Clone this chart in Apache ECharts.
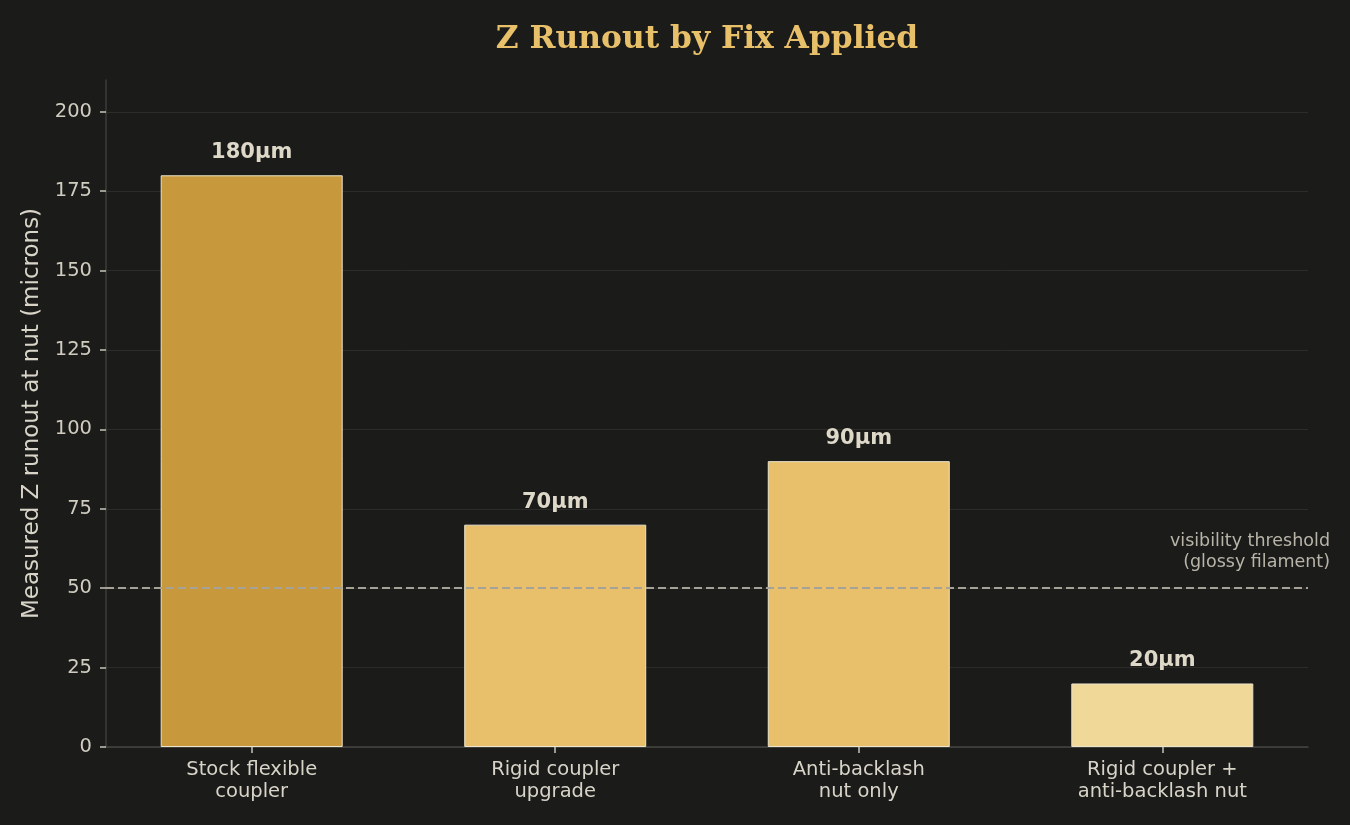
<!DOCTYPE html>
<html>
<head>
<meta charset="utf-8">
<script src="https://cdn.jsdelivr.net/npm/echarts@6/dist/echarts.min.js"></script>
<style>
html,body{margin:0;padding:0;background:#1b1b1a;}
#chart{width:1350px;height:825px;}
</style>
</head>
<body>
<div id="chart"></div>
<script>
var categories = ["Stock flexible\ncoupler", "Rigid coupler\nupgrade", "Anti-backlash\nnut only", "Rigid coupler +\nanti-backlash nut"];
var runoutValues = [180, 70, 90, 20];
var barColors = ["#c8993c", "#e8c06c", "#e8c06c", "#f0d898"];
var yTicks = [0, 25, 50, 75, 100, 125, 150, 175, 200];
var thresholdValue = 50;
var thresholdLabel = "visibility threshold\n(glossy filament)";
var xPositions = [0, 1, 2, 3];

var chart = echarts.init(document.getElementById('chart'));
var barData = runoutValues.map(function (v, i) {
  return { value: [xPositions[i], v], itemStyle: { color: barColors[i] } };
});

var option = {
  backgroundColor: '#1b1b1a',
  animation: false,
  title: {
    text: 'Z Runout by Fix Applied',
    left: 702,
    textAlign: 'center',
    top: 19,
    textStyle: { fontFamily: 'DejaVu Serif', fontWeight: 'bold', fontSize: 31.3, color: '#e8c06a' }
  },
  grid: { left: 106, right: 42, top: 80, bottom: 78 },
  xAxis: {
    type: 'value',
    min: -0.48,
    max: 3.48,
    splitLine: { show: false },
    axisLine: { show: true, onZero: false, lineStyle: { color: '#444442', width: 1.5 } },
    axisTick: { show: true, customValues: xPositions, length: 6, lineStyle: { color: '#c8c4b8', width: 1.5 } },
    axisLabel: {
      customValues: xPositions,
      formatter: function (v) { return categories[Math.round(v)] || ''; },
      color: '#d8d4c8', fontSize: 19.5, fontFamily: 'DejaVu Sans', lineHeight: 22, margin: 12
    }
  },
  yAxis: {
    type: 'value',
    min: 0,
    max: 210,
    name: 'Measured Z runout at nut (microns)',
    nameLocation: 'middle',
    nameGap: 58,
    nameTextStyle: { color: '#d8d4c8', fontSize: 23, fontFamily: 'DejaVu Sans' },
    axisLine: { show: true, onZero: false, lineStyle: { color: '#3c3c3a', width: 1.5 } },
    axisTick: { show: true, customValues: yTicks, length: 6, lineStyle: { color: '#c8c4b8', width: 1.5 } },
    axisLabel: { customValues: yTicks, color: '#d0ccc0', fontSize: 19.5, fontFamily: 'DejaVu Sans', margin: 14 },
    splitLine: { show: true, lineStyle: { color: '#2c2c2a', width: 1 } }
  },
  series: [
    {
      type: 'line',
      data: [],
      z: 1,
      markLine: {
        silent: true,
        symbol: 'none',
        lineStyle: { type: [8, 4], color: '#a6a298', width: 2 },
        label: {
          show: true,
          position: 'insideEndTop',
          formatter: thresholdLabel,
          color: '#b8b4a8',
          fontSize: 17.5,
          fontFamily: 'DejaVu Sans',
          align: 'right',
          lineHeight: 21,
          offset: [27, -10]
        },
        data: [{ yAxis: thresholdValue }]
      }
    },
    {
      type: 'bar',
      z: 3,
      barWidth: 182,
      data: barData,
      itemStyle: { borderColor: '#ece4cc', borderWidth: 1 },
      label: {
        show: true,
        position: 'top',
        distance: 12,
        formatter: function (p) { return p.value[1] + 'µm'; },
        color: '#ddd8c8',
        fontSize: 21,
        fontWeight: 'bold',
        fontFamily: 'DejaVu Sans'
      }
    }
  ]
};
chart.setOption(option);
</script>
</body>
</html>
